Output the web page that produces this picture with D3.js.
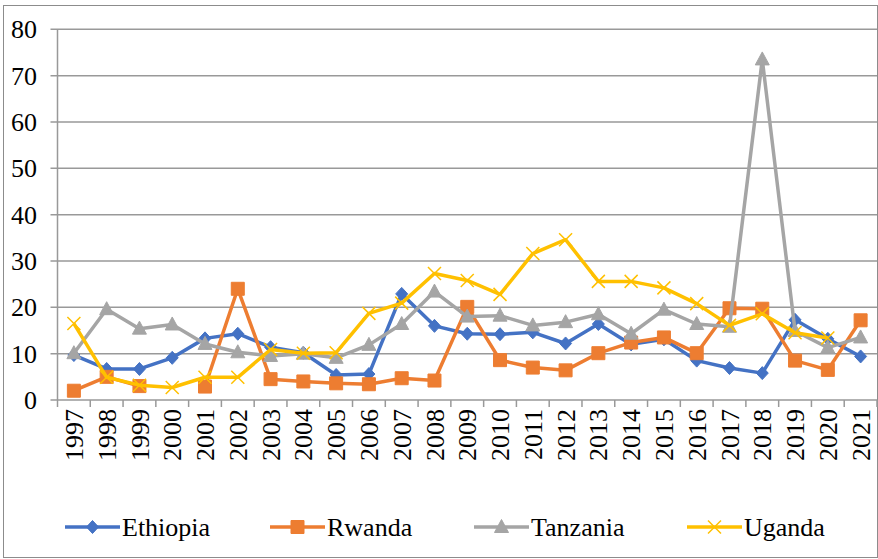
<!DOCTYPE html>
<html>
<head>
<meta charset="utf-8">
<script src="https://cdn.jsdelivr.net/npm/d3@7"></script>
<style>
  html, body { margin: 0; padding: 0; background: #fff; }
  svg { display: block; }
</style>
</head>
<body>
<svg id="chart" width="878" height="559"></svg>
<script>
const years = ["1997","1998","1999","2000","2001","2002","2003","2004","2005","2006","2007","2008","2009","2010","2011","2012","2013","2014","2015","2016","2017","2018","2019","2020","2021"];
const ethiopia = [9.7, 6.7, 6.7, 9.1, 13.3, 14.3, 11.4, 10.2, 5.4, 5.6, 22.9, 16.0, 14.3, 14.2, 14.6, 12.2, 16.4, 12.0, 13.1, 8.5, 6.9, 5.8, 17.3, 13.2, 9.4];
const rwanda = [2.0, 5.0, 3.0, null, 2.9, 24.0, 4.5, 4.0, 3.6, 3.4, 4.7, 4.2, 20.1, 8.6, 7.0, 6.4, 10.1, 12.4, 13.5, 10.1, 19.8, 19.7, 8.5, 6.5, 17.2];
const tanzania = [10.1, 19.6, 15.4, 16.3, 12.1, 10.3, 9.5, 10.0, 9.1, 11.9, 16.4, 23.4, 18.0, 18.2, 16.1, 16.8, 18.5, 14.3, 19.5, 16.4, 15.8, 73.5, 14.9, 11.3, 13.5];
const uganda = [16.5, 4.9, 3.2, 2.7, 4.9, 4.9, 10.9, 10.1, 10.2, 18.7, 20.9, 27.3, 25.8, 22.8, 31.6, 34.6, 25.6, 25.6, 24.2, 20.8, 16.1, 18.6, 14.5, 13.4, null];
const yTicks = [0, 10, 20, 30, 40, 50, 60, 70, 80];
const seriesNames = ["Ethiopia", "Rwanda", "Tanzania", "Uganda"];

const colors = {Ethiopia: "#4472C4", Rwanda: "#ED7D31", Tanzania: "#A5A5A5", Uganda: "#FFC000"};
const shapes = {Ethiopia: "diamond", Rwanda: "square", Tanzania: "triangle", Uganda: "x"};
const dataMap = {Ethiopia: ethiopia, Rwanda: rwanda, Tanzania: tanzania, Uganda: uganda};

const svg = d3.select("#chart");
const plotL = 57.5, plotR = 877, plotT = 29.3, plotB = 400;
const fontSize = 26;
const fontFam = '"Liberation Serif", "Times New Roman", serif';

// outer border
svg.append("rect").attr("x", 3.5).attr("y", 5.5).attr("width", 874).attr("height", 552)
  .attr("fill", "none").attr("stroke", "#8c8c8c").attr("stroke-width", 1);

const x = d3.scaleBand().domain(years).range([plotL, plotR]).paddingInner(0).paddingOuter(0);
const y = d3.scaleLinear().domain([0, 80]).range([plotB, plotT]);

// gridlines
svg.append("g").selectAll("line").data(yTicks).join("line")
  .attr("x1", plotL - 7).attr("x2", plotR)
  .attr("y1", d => y(d)).attr("y2", d => y(d))
  .attr("stroke", "#999").attr("stroke-width", 1.5);

// y axis line
svg.append("line").attr("x1", plotL).attr("x2", plotL).attr("y1", plotT).attr("y2", plotB)
  .attr("stroke", "#999").attr("stroke-width", 1.5);

// x ticks at band boundaries
const boundaries = years.map(d => x(d)).concat([plotR]);
svg.append("g").selectAll("line").data(boundaries).join("line")
  .attr("x1", d => d).attr("x2", d => d).attr("y1", plotB).attr("y2", plotB + 7)
  .attr("stroke", "#999").attr("stroke-width", 1.5);

// y labels
svg.append("g").selectAll("text").data(yTicks).join("text")
  .attr("x", 37).attr("y", d => y(d)).attr("dy", "0.35em")
  .style("font-family", fontFam)
  .attr("text-anchor", "end").attr("font-size", fontSize).attr("fill", "#000").text(d => d);

// x labels rotated
svg.append("g").selectAll("text").data(years).join("text")
  .attr("transform", d => `translate(${x(d) + x.bandwidth() / 2},${plotB + 9}) rotate(-90)`)
  .style("font-family", fontFam)
  .attr("dy", "0.35em").attr("text-anchor", "end").attr("font-size", fontSize).attr("fill", "#000").text(d => d);

function markerPath(shape) {
  switch (shape) {
    case "diamond": return "M0,-6.5L6,0L0,6.5L-6,0Z";
    case "square": return "M-6.5,-6.5H6.5V6.5H-6.5Z";
    case "triangle": return "M0,-7.5L7,5.5H-7Z";
    case "x": return "M-6.5,-6.5L6.5,6.5M6.5,-6.5L-6.5,6.5";
  }
}
function drawMarker(g, shape, color, cx, cy) {
  const p = g.append("path").attr("d", markerPath(shape)).attr("transform", `translate(${cx},${cy})`);
  if (shape === "x") p.attr("fill", "none").attr("stroke", color).attr("stroke-width", 1.5);
  else p.attr("fill", color).attr("stroke", color).attr("stroke-width", 1);
}

const line = d3.line().defined(d => d.v !== null).x(d => x(d.yr) + x.bandwidth() / 2).y(d => y(d.v));

seriesNames.forEach(name => {
  const vals = dataMap[name];
  const pts = years.map((yr, i) => ({yr, v: vals[i]}));
  const g = svg.append("g");
  g.append("path").datum(pts).attr("d", line).attr("fill", "none")
    .attr("stroke", colors[name]).attr("stroke-width", 3.5).attr("stroke-linejoin", "round");
  pts.filter(d => d.v !== null).forEach(d => {
    drawMarker(g, shapes[name], colors[name], x(d.yr) + x.bandwidth() / 2, y(d.v));
  });
});

// legend
const legendItems = [
  {name: "Ethiopia", x0: 65},
  {name: "Rwanda", x0: 270},
  {name: "Tanzania", x0: 474},
  {name: "Uganda", x0: 687}
];
const ly = 527;
legendItems.forEach(it => {
  const g = svg.append("g");
  g.append("line").attr("x1", it.x0).attr("x2", it.x0 + 55).attr("y1", ly).attr("y2", ly)
    .attr("stroke", colors[it.name]).attr("stroke-width", 3.5);
  drawMarker(g, shapes[it.name], colors[it.name], it.x0 + 27.5, ly);
  g.append("text").attr("x", it.x0 + 57).attr("y", ly).attr("dy", "0.35em")
    .style("font-family", fontFam).attr("fill", "#000")
    .attr("font-size", fontSize).text(it.name);
});
</script>
</body>
</html>
